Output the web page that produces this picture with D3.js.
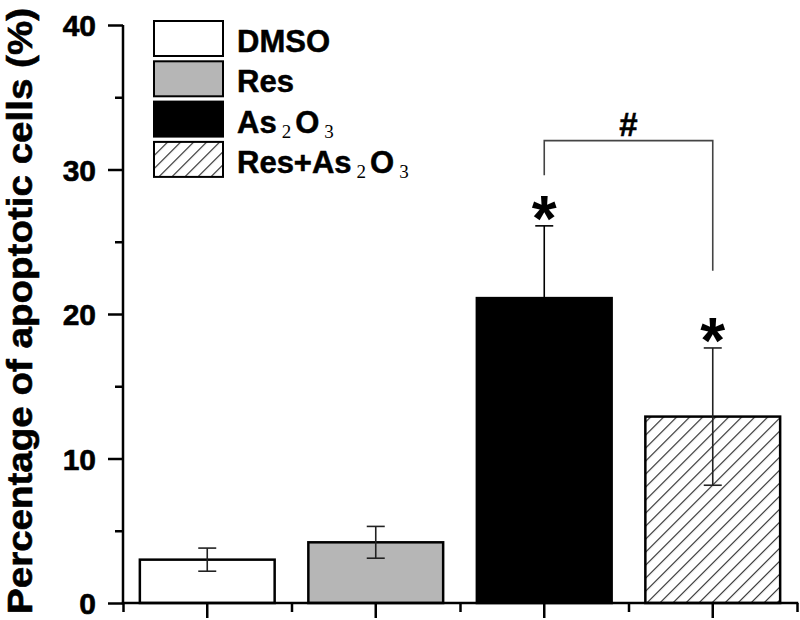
<!DOCTYPE html>
<html>
<head>
<meta charset="utf-8">
<script src="https://cdn.jsdelivr.net/npm/d3@7"></script>
<style>
    html, body { margin: 0; padding: 0; background: #fff; }
    svg { display: block; font-family: "Liberation Sans", Arial, sans-serif; }
</style>
</head>
<body>
<svg id="chart" width="800" height="620"></svg>
<script>
// Data
const groups = ['DMSO', 'Res', 'As2O3', 'Res+As2O3'];
const means = [3.0, 4.2, 21.1, 12.9];
const errors = [0.8, 1.1, 5.0, 4.75];
const fills = ['#ffffff', '#b6b6b6', '#000000', 'url(#hatch)'];
const yTicks = [0, 10, 20, 30, 40];
const yMinorTicks = [5, 15, 25, 35];
const significant = [false, false, true, true]; // '*' vs DMSO
const bracketPair = ['As2O3', 'Res+As2O3']; // '#' between these
// legend labels, split into normal / subscript pieces
const legendLabels = [
    [{ t: 'DMSO' }],
    [{ t: 'Res' }],
    [{ t: 'As' }, { t: '2', sub: true }, { t: 'O' }, { t: '3', sub: true }],
    [{ t: 'Res+As' }, { t: '2', sub: true }, { t: 'O' }, { t: '3', sub: true }]
];

class ApoptosisChart {
    constructor() {
        this.svg = d3.select('#chart');
        this.left = 123;
        this.right = 797;
        this.top = 25;
        this.bottom = 603;

        this.setupScales();
        this.setupPattern();
        this.drawBars();
        this.drawAxes();
        this.drawAnnotations();
        this.drawLegend();
    }

    setupScales() {
        this.x = d3.scaleBand()
            .domain(groups)
            .range([this.left, this.right])
            .paddingInner(0.2)
            .paddingOuter(0.1);

        this.y = d3.scaleLinear()
            .domain([0, 40])
            .range([this.bottom, this.top]);

        // boundaries between the groups, for the short x ticks
        this.xEdge = d3.scaleLinear()
            .domain([0, groups.length])
            .range([this.left, this.right]);
    }

    setupPattern() {
        const pattern = this.svg.append('defs')
            .append('pattern')
            .attr('id', 'hatch')
            .attr('patternUnits', 'userSpaceOnUse')
            .attr('width', 9.2)
            .attr('height', 9.2)
            .attr('patternTransform', 'rotate(45)');

        pattern.append('rect')
            .attr('width', 9.2)
            .attr('height', 9.2)
            .attr('fill', '#fff');

        pattern.append('line')
            .attr('x1', 0).attr('y1', 0)
            .attr('x2', 0).attr('y2', 9.2)
            .attr('stroke', '#222')
            .attr('stroke-width', 2.2);
    }

    drawBars() {
        const data = groups.map((g, i) => ({ g, mean: means[i], err: errors[i], fill: fills[i] }));

        this.svg.selectAll('.bar')
            .data(data)
            .enter()
            .append('rect')
            .attr('class', 'bar')
            .attr('x', d => this.x(d.g))
            .attr('y', d => this.y(d.mean))
            .attr('width', this.x.bandwidth())
            .attr('height', d => this.y(0) - this.y(d.mean))
            .attr('fill', d => d.fill)
            .attr('stroke', '#000')
            .attr('stroke-width', 2.5);

        const cx = d => this.x(d.g) + this.x.bandwidth() / 2;
        const cap = 9;
        const err = this.svg.selectAll('.err')
            .data(data)
            .enter()
            .append('g')
            .attr('class', 'err')
            // whisker inside the black bar just disappears into it
            .attr('stroke', d => d.fill === '#000000' ? '#000' : '#222')
            .attr('stroke-width', 1.6);

        err.append('line')
            .attr('x1', cx).attr('x2', cx)
            .attr('y1', d => this.y(d.mean + d.err))
            .attr('y2', d => this.y(d.mean - d.err));
        err.append('line')
            .attr('x1', d => cx(d) - cap).attr('x2', d => cx(d) + cap)
            .attr('y1', d => this.y(d.mean + d.err))
            .attr('y2', d => this.y(d.mean + d.err));
        err.append('line')
            .attr('x1', d => cx(d) - cap).attr('x2', d => cx(d) + cap)
            .attr('y1', d => this.y(d.mean - d.err))
            .attr('y2', d => this.y(d.mean - d.err));
    }

    drawAxes() {
        const styleAxis = g => {
            g.select('.domain').remove();
            g.selectAll('line').attr('stroke', '#000').attr('stroke-width', 2.5);
            g.selectAll('text')
                .attr('font-size', 30)
                .attr('font-weight', 'bold')
                .attr('fill', '#000')
                .attr('stroke', '#000')
                .attr('stroke-width', 0.6);
        };

        // y axis major + minor
        this.svg.append('g')
            .attr('transform', `translate(${this.left},0)`)
            .call(d3.axisLeft(this.y).tickValues(yTicks).tickSize(15).tickPadding(12))
            .call(styleAxis)
            .selectAll('text').attr('dy', '0.36em');

        this.svg.append('g')
            .attr('transform', `translate(${this.left},0)`)
            .call(d3.axisLeft(this.y).tickValues(yMinorTicks).tickSize(8).tickFormat(''))
            .call(styleAxis);

        // x axis: long ticks at bar centres, short ticks at group edges
        this.svg.append('g')
            .attr('transform', `translate(0,${this.bottom})`)
            .call(d3.axisBottom(this.x).tickSize(15).tickFormat(''))
            .call(styleAxis);

        this.svg.append('g')
            .attr('transform', `translate(0,${this.bottom})`)
            .call(d3.axisBottom(this.xEdge).tickValues(d3.range(groups.length + 1)).tickSize(9).tickFormat(''))
            .call(styleAxis);

        // axis lines
        this.svg.append('line')
            .attr('x1', this.left).attr('x2', this.left)
            .attr('y1', this.y(40)).attr('y2', this.bottom + 1.25)
            .attr('stroke', '#000').attr('stroke-width', 2.5);
        this.svg.append('line')
            .attr('x1', this.left - 1.25).attr('x2', this.right + 1.25)
            .attr('y1', this.bottom).attr('y2', this.bottom)
            .attr('stroke', '#000').attr('stroke-width', 2.5);

        // y title
        this.svg.append('text')
            .attr('transform', `translate(32,311) rotate(-90)`)
            .attr('text-anchor', 'middle')
            .attr('font-size', 35)
            .attr('font-weight', 'bold')
            .attr('stroke', '#000')
            .attr('stroke-width', 0.6)
            .attr('textLength', 606)
            .attr('lengthAdjust', 'spacingAndGlyphs')
            .text('Percentage of apoptotic cells (%)');
    }

    drawAnnotations() {
        const cx = g => this.x(g) + this.x.bandwidth() / 2;

        groups.forEach((g, i) => {
            if (!significant[i]) return;
            this.svg.append('text')
                .attr('x', cx(g))
                .attr('y', this.y(means[i] + errors[i]) - 21)
                .attr('dy', '0.56em')
                .attr('text-anchor', 'middle')
                .attr('font-size', 64)
                .attr('font-weight', 'bold')
                .text('*');
        });

        // bracket between As2O3 and Res+As2O3
        const x1 = cx(bracketPair[0]);
        const x2 = cx(bracketPair[1]);
        const yb = this.y(32);
        this.svg.append('path')
            .attr('d', `M${x1},${this.y(29.6)}V${yb}H${x2}V${this.y(23.0)}`)
            .attr('fill', 'none')
            .attr('stroke', '#444')
            .attr('stroke-width', 1.6);

        this.svg.append('text')
            .attr('x', (x1 + x2) / 2)
            .attr('y', yb - 5)
            .attr('text-anchor', 'middle')
            .attr('font-size', 33)
            .attr('font-weight', 'bold')
            .attr('stroke', '#000')
            .attr('stroke-width', 0.5)
            .text('#');
    }

    drawLegend() {
        const legend = this.svg.append('g')
            .attr('transform', 'translate(154,21)');

        const items = legend.selectAll('.legend-item')
            .data(groups)
            .enter()
            .append('g')
            .attr('class', 'legend-item')
            .attr('transform', (d, i) => `translate(0,${i * 40.3})`);

        items.append('rect')
            .attr('width', 69)
            .attr('height', 35)
            .attr('fill', (d, i) => fills[i])
            .attr('stroke', '#000')
            .attr('stroke-width', 2);

        const label = items.append('text')
            .attr('x', 83)
            .attr('y', 31)
            .attr('font-size', 31)
            .attr('font-weight', 'bold');

        label.each(function (d, i) {
            const t = d3.select(this);
            legendLabels[i].forEach(part => {
                if (part.sub) {
                    t.append('tspan')
                        .attr('font-family', '"Liberation Serif", "Times New Roman", serif')
                        .attr('font-weight', 'normal')
                        .attr('font-size', 19)
                        .attr('dx', 5)
                        .attr('dy', 5)
                        .text(part.t);
                } else {
                    const sp = t.append('tspan')
                        .attr('stroke', '#000')
                        .attr('stroke-width', 0.5)
                        .text(part.t);
                    if (t.selectAll('tspan').size() > 1) sp.attr('dx', 4).attr('dy', -5);
                }
            });
        });
    }
}

document.addEventListener('DOMContentLoaded', () => {
    new ApoptosisChart();
});
</script>
</body>
</html>
